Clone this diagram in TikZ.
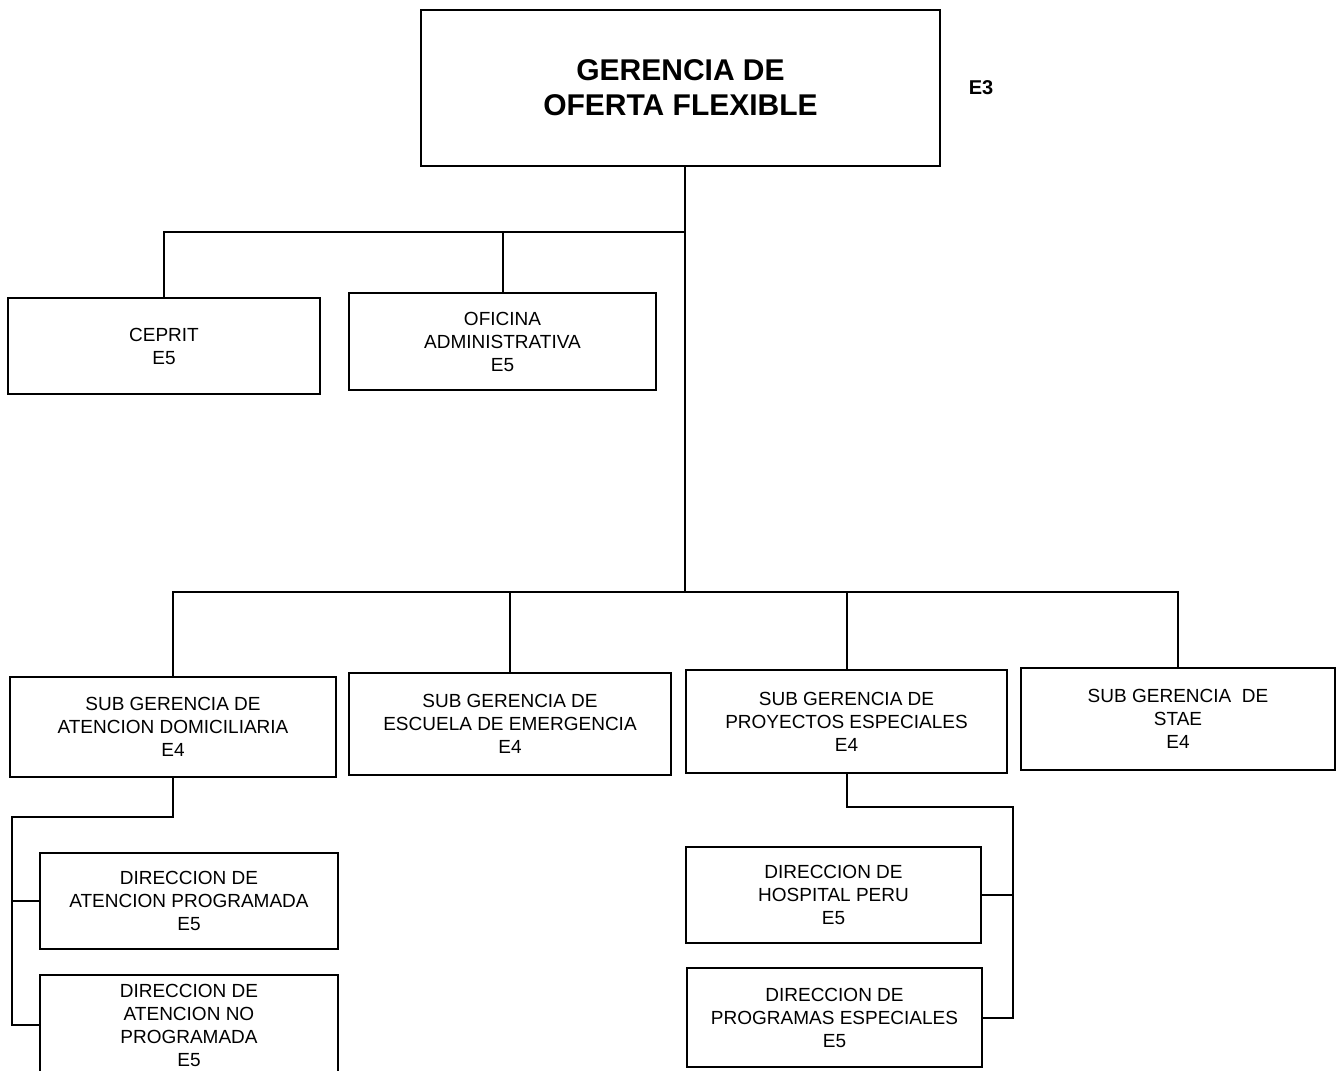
\documentclass[tikz,border=0pt]{standalone}
\usepackage{fontspec}
\setmainfont{Liberation Sans}
\usepackage{tikz}
\usetikzlibrary{positioning}

\tikzset{
	unidad/.style={draw, line width=1.2pt, align=center, inner sep=0pt,
		font=\fontsize{9.5}{11.5}\selectfont},
	enlace/.style={line width=1pt}
}

\begin{document}
\begin{tikzpicture}[x=0.5pt, y=-0.5pt]
			\useasboundingbox (0,0) rectangle (1337,1070);

			\node[unidad, minimum width=259.5pt, minimum height=78pt,
				font=\fontsize{15}{17.5}\selectfont\bfseries] (gerencia) at (680.5,88) {GERENCIA DE\\OFERTA FLEXIBLE};
			\node[font=\fontsize{10}{12}\selectfont\bfseries] (nivel) at (981,88) {E3};

			\node[unidad, minimum width=156pt, minimum height=48pt] (ceprit) at (164,346) {CEPRIT\\E5};
			\node[unidad, minimum width=153.5pt, minimum height=48.5pt] (oficina) at (502.5,341.5) {OFICINA\\ADMINISTRATIVA\\E5};

			\node[unidad, minimum width=163pt, minimum height=50pt] (domic) at (173,727) {SUB GERENCIA DE\\ATENCION DOMICILIARIA\\E4};
			\node[unidad, minimum width=161pt, minimum height=51pt] (escuela) at (510,724) {SUB GERENCIA DE\\ESCUELA DE EMERGENCIA\\E4};
			\node[unidad, minimum width=160.5pt, minimum height=51.5pt] (proyectos) at (846.5,721.5) {SUB GERENCIA DE\\PROYECTOS ESPECIALES\\E4};
			\node[unidad, minimum width=157pt, minimum height=51pt] (stae) at (1178,719) {SUB GERENCIA\ \ DE\\STAE\\E4};

			\node[unidad, minimum width=149pt, minimum height=48pt] (programada) at (189,901) {DIRECCION DE\\ATENCION PROGRAMADA\\E5};
			\node[unidad, minimum width=149pt, minimum height=50pt] (noprog) at (189,1025) {DIRECCION DE\\ATENCION NO\\PROGRAMADA\\E5};
			\node[unidad, minimum width=147.5pt, minimum height=48pt] (hospital) at (833.5,895) {DIRECCION DE\\HOSPITAL PERU\\E5};
			\node[unidad, minimum width=147.5pt, minimum height=49.5pt] (especiales) at (834.5,1017.5) {DIRECCION DE\\PROGRAMAS ESPECIALES\\E5};

			\coordinate (busalto) at (685,232);
			\coordinate (busbajo) at (685,592);
			\coordinate (codoA) at (12,817);
			\coordinate (codoB) at (1013,807);

			\draw[enlace] (gerencia.south -| busbajo) -- (busbajo);
			\draw[enlace] (ceprit.north) |- (busalto);
			\draw[enlace] (oficina.north) -- (oficina.north |- busalto);

			\draw[enlace] (domic.north) |- (stae.north |- busbajo) -- (stae.north);
			\draw[enlace] (escuela.north) -- (escuela.north |- busbajo);
			\draw[enlace] (proyectos.north) -- (proyectos.north |- busbajo);

			\draw[enlace] (domic.south) |- (codoA) |- (noprog.west);
			\draw[enlace] (codoA |- programada.west) -- (programada.west);
			\draw[enlace] (proyectos.south) |- (codoB) |- (especiales.east);
			\draw[enlace] (codoB |- hospital.east) -- (hospital.east);
		\end{tikzpicture}
\end{document}
